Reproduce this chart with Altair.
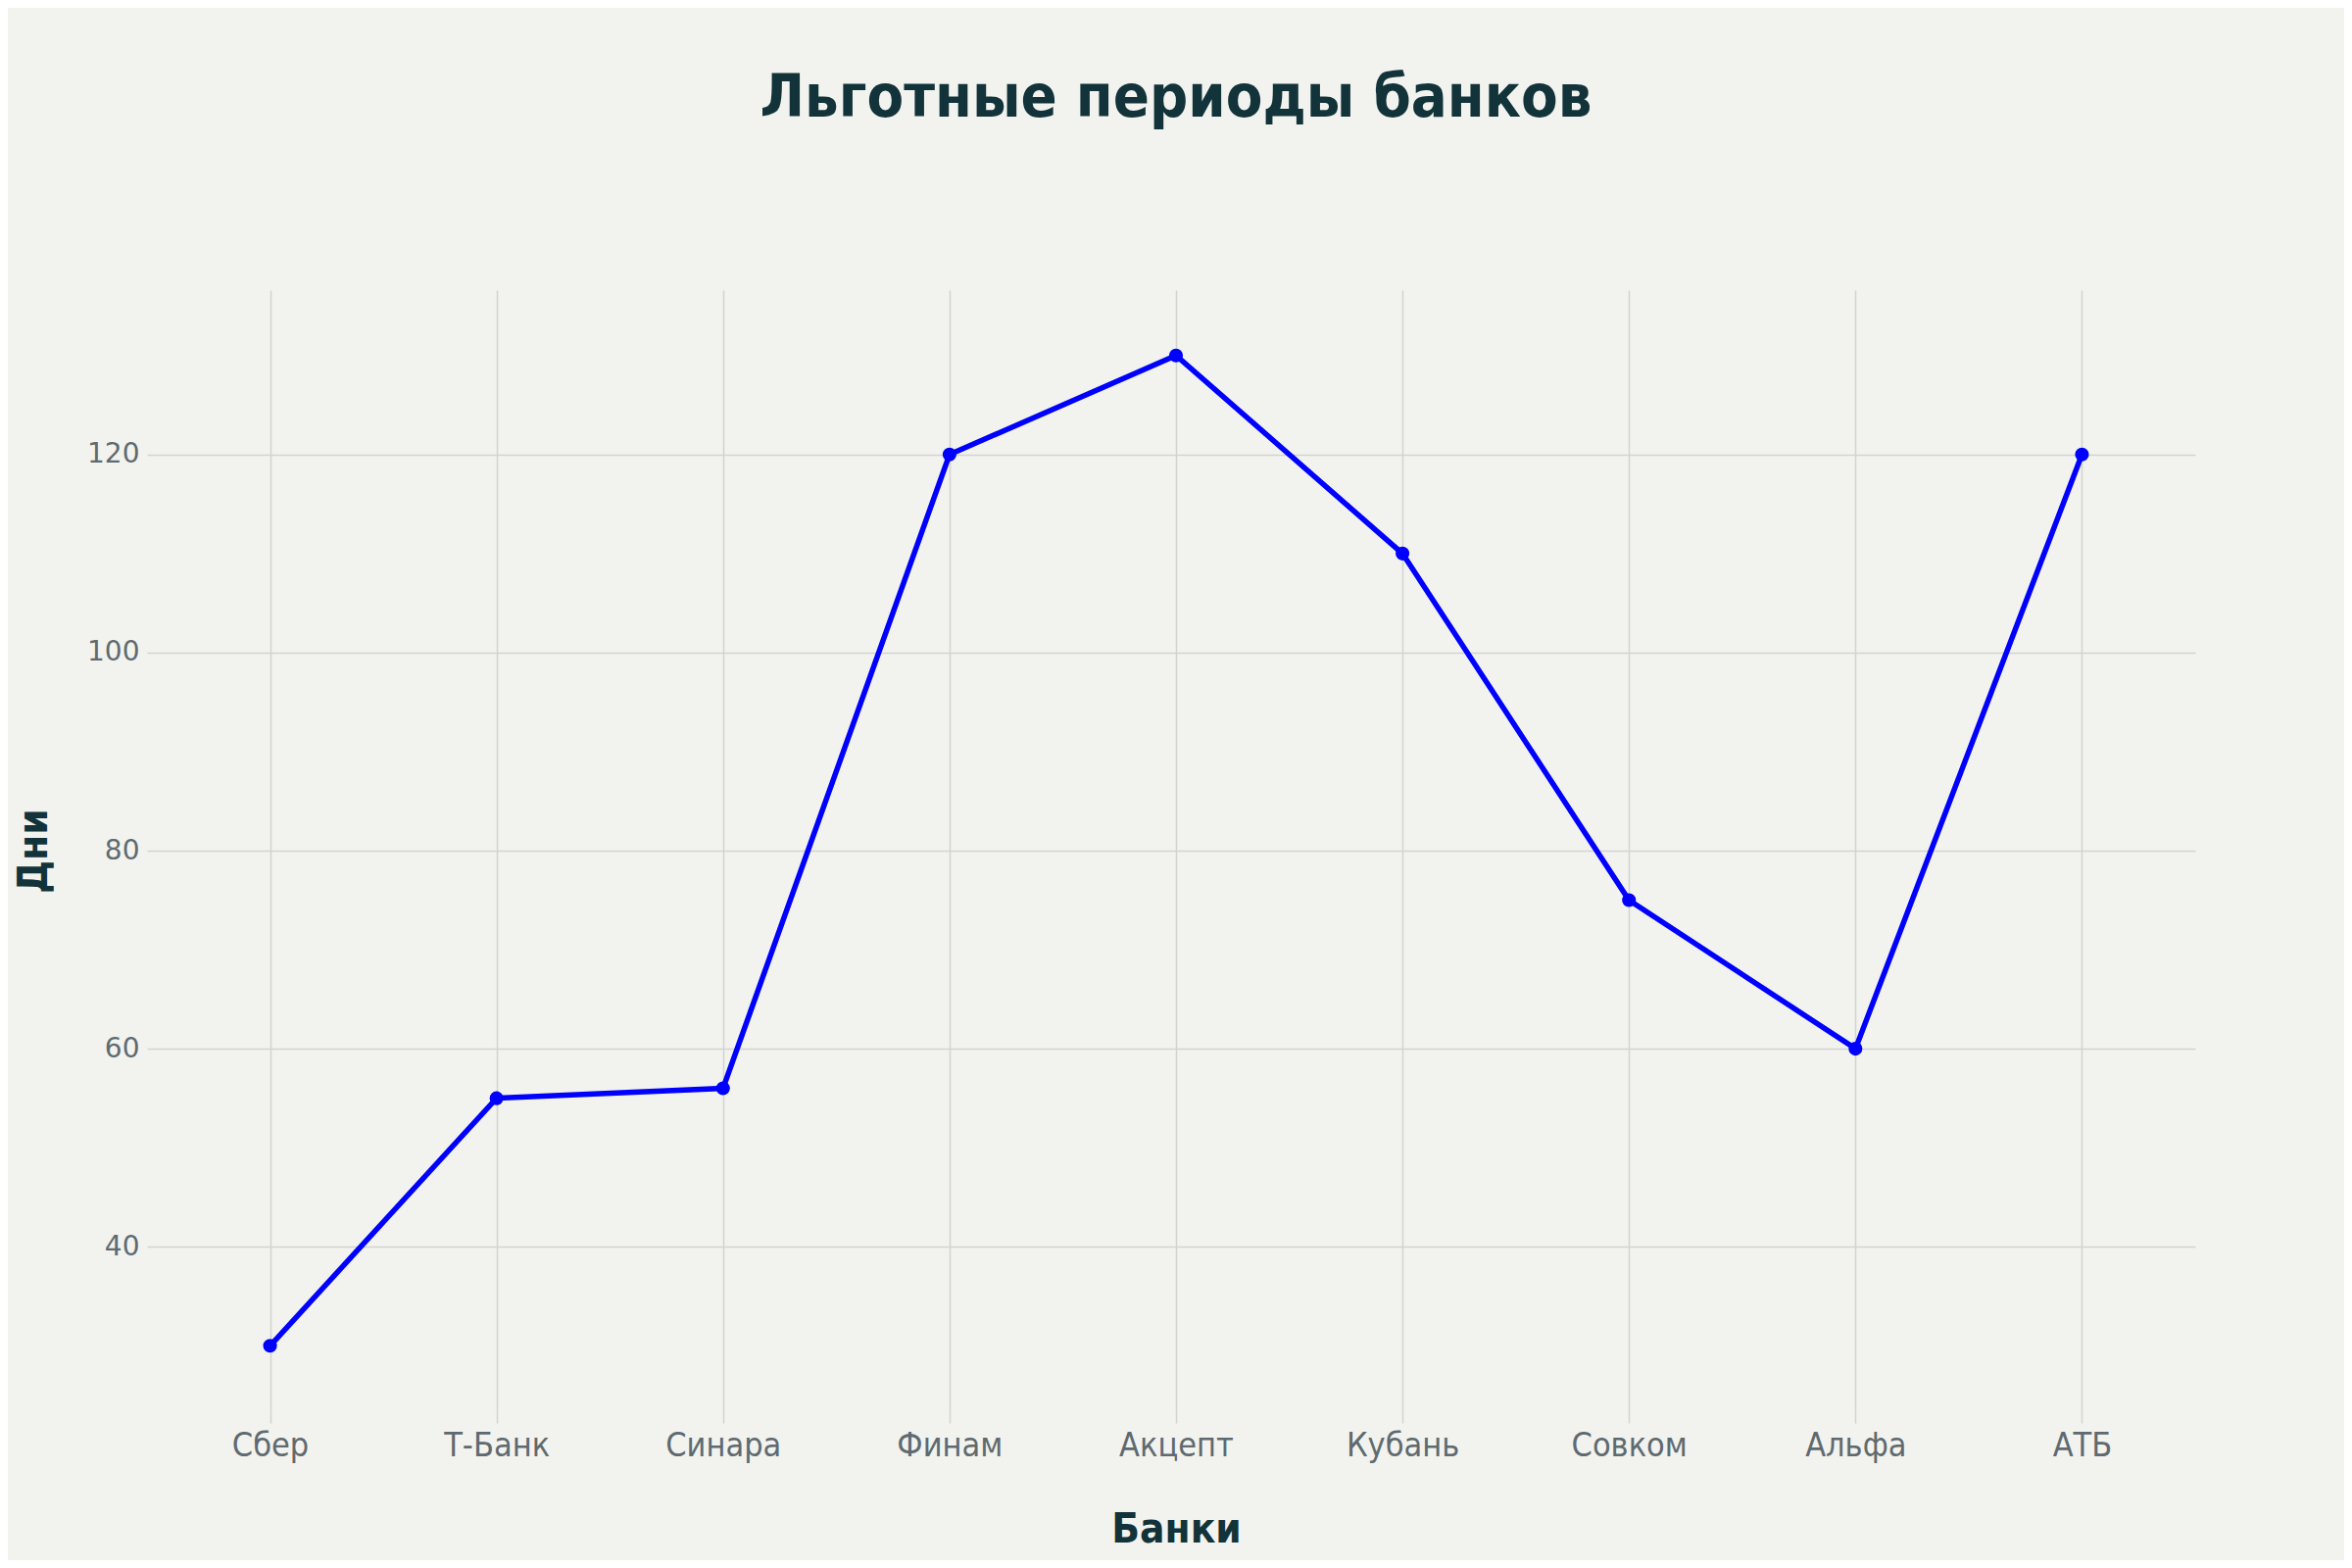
import altair as alt
import pandas as pd

banks = ["Сбер", "Т-Банк", "Синара", "Финам", "Акцепт", "Кубань", "Совком", "Альфа", "АТБ"]
days = [30, 55, 56, 120, 130, 110, 75, 60, 120]
y_ticks = [40, 60, 80, 100, 120]
y_domain = [23.4, 136.6]

df = pd.DataFrame({"bank": banks, "days": days})

COND = "DejaVu Sans Condensed, Liberation Sans Narrow, DejaVu Sans"
DARK = "#12333a"
GREY = "#5f6a70"
GRID = "#d3d3cf"

x = alt.X("bank:N", sort=banks, title="Банки",
          scale=alt.Scale(type="point", padding=0.5),
          axis=alt.Axis(labelAngle=0, labelFont=COND, labelFontSize=34, labelColor=GREY,
                        labelPadding=6, tickSize=12, tickColor=GRID, tickWidth=1.5,
                        grid=True, gridColor=GRID, gridWidth=1.5, domain=False,
                        titleFont=COND, titleFontSize=42, titleFontWeight="bold", titleColor=DARK,
                        titleY=120, titleBaseline="middle"))
y = alt.Y("days:Q", title="Дни",
          scale=alt.Scale(domain=y_domain, nice=False, zero=False),
          axis=alt.Axis(values=y_ticks, labelFont="DejaVu Sans", labelFontSize=28, labelColor=GREY,
                        labelPadding=8, tickSize=10, tickColor=GRID, tickWidth=1.5,
                        grid=True, gridColor=GRID, gridWidth=1.5, domain=False,
                        titleFont=COND, titleFontSize=42, titleFontWeight="bold", titleColor=DARK,
                        titleAngle=270, titleX=-126, titleY=572, titleAlign="center",
                        titleBaseline="middle"))

line = alt.Chart(df).mark_line(color="#0000ff", strokeWidth=5.5).encode(x=x, y=y)
pts = alt.Chart(df).mark_circle(color="#0000ff", size=200, opacity=1).encode(x=x, y=y)

chart = (line + pts).properties(
    width=2080, height=1144,
    autosize=alt.AutoSizeParams(type="none"),
    padding={"left": 152, "top": 288, "right": 152, "bottom": 152},
    background="#f2f3ee",
    title=alt.TitleParams("Льготные периоды банков", font=COND, fontSize=61, fontWeight="bold",
                          color=DARK, anchor="middle", offset=164),
).configure_view(stroke=None)

chart.save("out.html", embed_options={"renderer": "svg", "actions": False})
